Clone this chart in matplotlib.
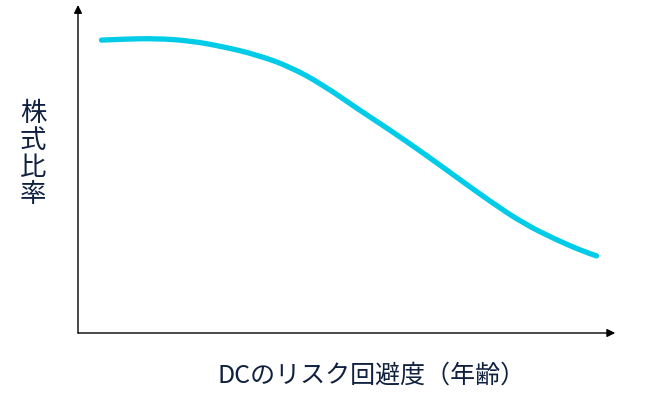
import matplotlib
matplotlib.use("Agg")
import matplotlib.pyplot as plt
from matplotlib.path import Path
from matplotlib.patches import PathPatch

plt.rcParams['font.family'] = ['Noto Sans CJK JP', 'DejaVu Sans']

# risk aversion (age) vs equity ratio, conceptual values
risk = [0.44, 0.85, 1.47, 2.10, 2.72, 3.35, 3.97, 4.59, 5.22, 5.84,
        6.47, 7.09, 7.72, 8.34, 8.96, 9.40, 9.71]
equity = [8.93, 8.96, 8.98, 8.91, 8.73, 8.48, 8.12, 7.56, 6.85, 6.19,
          5.48, 4.75, 4.01, 3.34, 2.84, 2.53, 2.35]

xlabel = 'DCのリスク回避度（年齢）'
ylabel = '株式比率'

line_color = '#00CCE8'
text_color = '#10213F'

fig = plt.figure(figsize=(6.65, 4.0), dpi=100)
ax = fig.add_axes([78 / 665, 67 / 400, 534 / 665, 328 / 400])

# smooth curve: quadratic bezier segments through midpoints of the read points
pts = list(zip(risk, equity))
verts = [pts[0]]
codes = [Path.MOVETO]
for i in range(1, len(pts) - 1):
    mid = ((pts[i][0] + pts[i + 1][0]) / 2, (pts[i][1] + pts[i + 1][1]) / 2)
    verts += [pts[i], mid]
    codes += [Path.CURVE3, Path.CURVE3]
verts.append(pts[-1])
codes.append(Path.LINETO)
ax.add_patch(PathPatch(Path(verts, codes), facecolor='none',
                       edgecolor=line_color, lw=3.8, capstyle='round'))
ax.set_xlim(0, 10)
ax.set_ylim(0, 10)

for s in ax.spines.values():
    s.set_visible(False)
ax.set_xticks([])
ax.set_yticks([])

# axis arrows
ax.annotate('', xy=(1.006, 0), xytext=(0, 0), xycoords='axes fraction',
            arrowprops=dict(arrowstyle='-|>', color='black', lw=1.0,
                            mutation_scale=12, shrinkA=0, shrinkB=0))
ax.annotate('', xy=(0, 1.0), xytext=(0, 0), xycoords='axes fraction',
            arrowprops=dict(arrowstyle='-|>', color='black', lw=1.0,
                            mutation_scale=12, shrinkA=0, shrinkB=0))

fig.text(372 / 665, 1 - 376 / 400, xlabel, ha='center', va='center',
         fontsize=18, color=text_color)
fig.text(33 / 665, 1 - 154 / 400, '\n'.join(ylabel), ha='center', va='center',
         fontsize=19, color=text_color, linespacing=1.0)

fig.savefig('out.png', dpi=100, facecolor='white')
